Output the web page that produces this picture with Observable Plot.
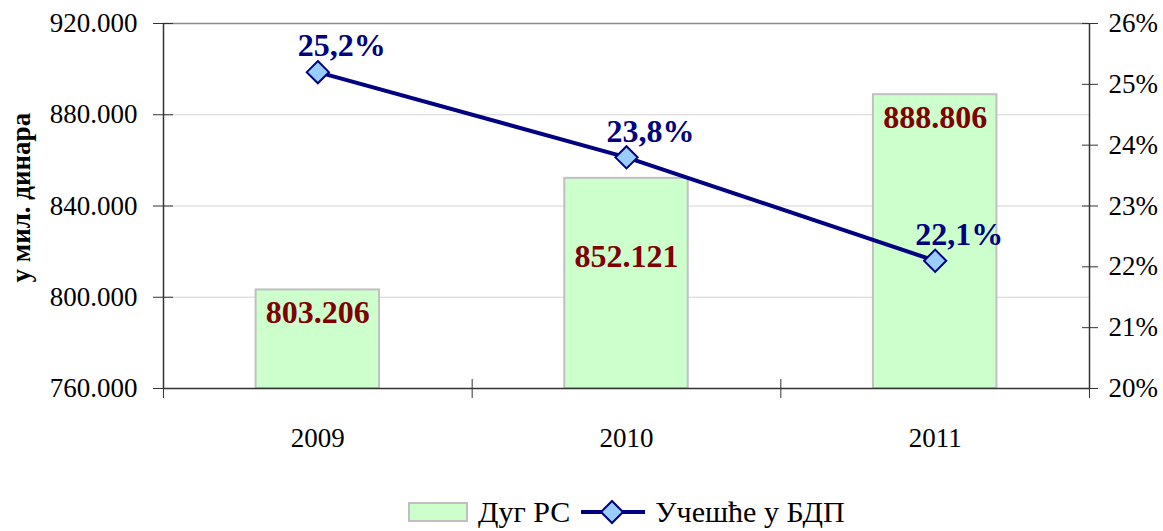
<!DOCTYPE html>
<html>
<head>
<meta charset="utf-8">
<script src="https://cdn.jsdelivr.net/npm/d3@7"></script>
<script src="https://cdn.jsdelivr.net/npm/@observablehq/plot@0.6"></script>
<style>
  html, body { margin: 0; padding: 0; background: #fff; }
  #wrap { position: relative; width: 1163px; height: 531px; font-family: "Liberation Serif", "Times New Roman", serif; }
  #chart svg { display: block; }
  #legend { position: absolute; left: 408px; top: 497px; height: 30px; display: flex; align-items: center; font-size: 30px; line-height: 30px; color: #000; white-space: nowrap; }
  #legend svg { display: block; }
</style>
</head>
<body>
<div id="wrap">
  <div id="chart"></div>
  <div id="legend"></div>
</div>
<script>
// ---- data ----
const years = ["2009", "2010", "2011"];
const debt = [803206, 852121, 888806];          // Дуг РС, у мил. динара
const share = [25.2, 23.8, 22.1];               // Учешће у БДП, %
const leftTicks = [760000, 800000, 840000, 880000, 920000];
const rightTicks = [20, 21, 22, 23, 24, 25, 26];
const seriesNames = ["Дуг РС", "Учешће у БДП"];
const yTitle = "у мил. динара";

// ---- helpers ----
const yMin = 760000, yMax = 920000, pMin = 20, pMax = 26;
const toLeft = p => yMin + (p - pMin) / (pMax - pMin) * (yMax - yMin);
const fromLeft = v => pMin + (v - yMin) / (yMax - yMin) * (pMax - pMin);
const numFmt = v => (v / 1000).toFixed(3);
const pctFmt = p => p.toFixed(1).replace(".", ",") + "%";

const data = years.map((y, i) => ({i, year: y, debt: debt[i], share: share[i]}));

const navy = "#000080", maroon = "#800000", axisCol = "#333";
const font = "'Liberation Serif', 'Times New Roman', serif";

const chart = Plot.plot({
  width: 1163,
  height: 470,
  marginTop: 23,
  marginBottom: 82,
  marginLeft: 163,
  marginRight: 74,
  style: {fontFamily: font, fontSize: "27px", background: "white", color: "black", overflow: "visible"},
  x: {type: "linear", domain: [0, years.length], axis: null},
  y: {domain: [yMin, yMax], axis: null},
  marks: [
    // gridlines
    Plot.ruleY(leftTicks.slice(1, -1), {stroke: "#d4d4d4", strokeWidth: 1.2}),
    Plot.ruleY([yMax], {stroke: "#8a8a8a", strokeWidth: 1.5}),
    // bars
    Plot.rectY(data, {x1: d => d.i + 0.3, x2: d => d.i + 0.7, y1: yMin, y2: d => d.debt,
      fill: "#CCFFCC", stroke: "#C0C0C0", strokeWidth: 2}),
    // axis lines
    Plot.ruleY([yMin], {stroke: axisCol, strokeWidth: 1.5}),
    Plot.ruleX([0, years.length], {stroke: axisCol, strokeWidth: 1.5}),
    // left axis: crossing ticks + labels
    Plot.axisY(leftTicks, {anchor: "left", tickSize: 20, dx: 10, tickFormat: () => "", label: null, stroke: axisCol}),
    Plot.axisY(leftTicks, {anchor: "left", tickSize: 0, tickPadding: 26, tickFormat: numFmt, label: null, fontSize: 27}),
    // right axis
    Plot.axisY(rightTicks.map(toLeft), {anchor: "right", tickSize: 16, dx: -8, tickFormat: () => "", label: null, stroke: axisCol}),
    Plot.axisY(rightTicks.map(toLeft), {anchor: "right", tickSize: 0, tickPadding: 19,
      tickFormat: v => Math.round(fromLeft(v)) + "%", label: null, fontSize: 27}),
    // bottom axis: crossing ticks at category boundaries + year labels
    Plot.axisX(d3.range(years.length + 1), {anchor: "bottom", tickSize: 19, dy: -9, tickFormat: () => "", label: null, stroke: axisCol}),
    Plot.axisX(data.map(d => d.i + 0.5), {anchor: "bottom", tickSize: 0, tickPadding: 39,
      tickFormat: v => years[Math.floor(v)], label: null, fontSize: 27}),
    // y axis title
    Plot.text([yTitle], {frameAnchor: "bottom-left", text: d => d, rotate: -90, textAnchor: "start",
      lineAnchor: "middle", dx: -142, dy: -106, fontWeight: "bold", fontSize: 27}),
    // bar value labels
    Plot.text(data.filter(d => d.i !== 1), {x: d => d.i + 0.5, y: d => d.debt, text: d => numFmt(d.debt),
      dy: 23, lineAnchor: "middle", fill: maroon, fontWeight: "bold", fontSize: 32}),
    Plot.text(data.filter(d => d.i === 1), {x: d => d.i + 0.5, y: d => d.debt, text: d => numFmt(d.debt),
      dy: 78, lineAnchor: "middle", fill: maroon, fontWeight: "bold", fontSize: 32}),
    // line series on secondary scale
    Plot.line(data, {x: d => d.i + 0.5, y: d => toLeft(d.share), stroke: navy, strokeWidth: 4}),
    Plot.dot(data, {x: d => d.i + 0.5, y: d => toLeft(d.share), symbol: "diamond2", r: 10,
      fill: "#99CCFF", stroke: navy, strokeWidth: 2}),
    Plot.text(data, {x: d => d.i + 0.5, y: d => toLeft(d.share), text: d => pctFmt(d.share),
      dx: 24, dy: -26, lineAnchor: "middle", fill: navy, fontWeight: "bold", fontSize: 32})
  ]
});
document.getElementById("chart").appendChild(chart);

// ---- legend ----
const legend = document.getElementById("legend");
legend.innerHTML =
  `<svg width="60" height="20"><rect x="1" y="1" width="58" height="18" fill="#CCFFCC" stroke="#C0C0C0" stroke-width="2"/></svg>` +
  `<span style="margin-left:10px">${seriesNames[0]}</span>` +
  `<svg width="64" height="26" style="margin-left:11px"><line x1="0" y1="13" x2="64" y2="13" stroke="${navy}" stroke-width="4"/>` +
  `<path d="M31,2 L42,13 L31,24 L20,13 Z" fill="#99CCFF" stroke="${navy}" stroke-width="2"/></svg>` +
  `<span style="margin-left:10px">${seriesNames[1]}</span>`;
</script>
</body>
</html>
